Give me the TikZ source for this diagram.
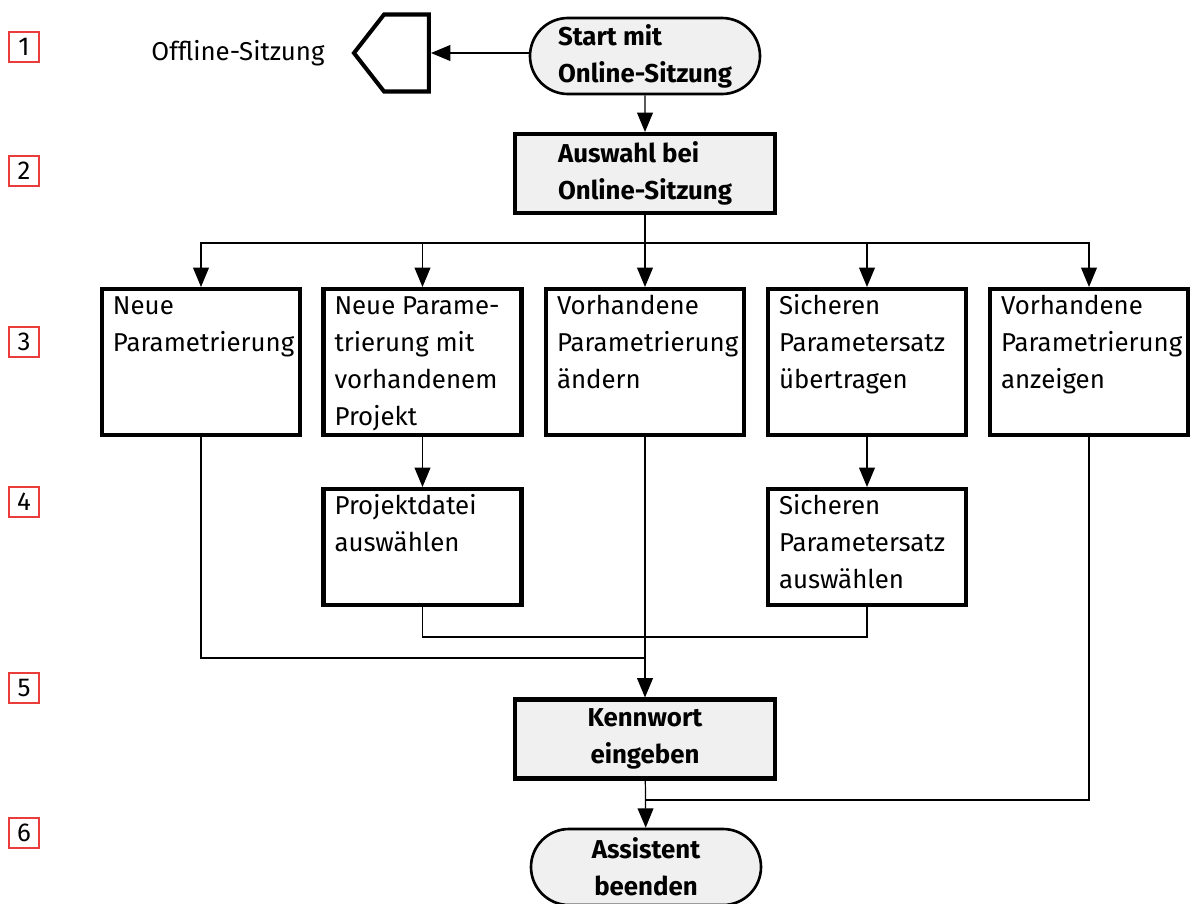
\documentclass[tikz,border=0pt]{standalone}
\usepackage{fontspec}
\setmainfont{Fira Sans}
\usetikzlibrary{arrows.meta,shapes.misc,shapes.symbols}
\definecolor{mark}{RGB}{235,60,60}
\definecolor{panel}{RGB}{240,240,240}
\newcommand{\diagfont}{\fontsize{14.7}{21}\selectfont}
\newcommand{\boxtxt}[2]{\parbox[c][#1][t]{3.96cm}{\raggedright\leftskip=0.22cm\strut#2}}
\tikzset{
  every node/.style={font=\diagfont},
  numbox/.style={draw=mark,line width=1.1pt,minimum size=0.6cm,inner sep=0pt},
  stepbox/.style={draw,line width=2.3pt,inner sep=0pt},
  termbox/.style={draw,rounded rectangle,fill=panel,line width=1.5pt,minimum width=4.6cm,
    minimum height=1.52cm,inner sep=0pt,font=\diagfont\bfseries},
  actbox/.style={draw,fill=panel,line width=2.3pt,minimum width=5.2cm,minimum height=1.58cm,
    inner sep=0pt,font=\diagfont\bfseries},
  offpage/.style={draw,signal,signal to=west,signal from=nowhere,signal pointer angle=104,
    line width=2.3pt,minimum width=1.5cm,minimum height=1.54cm,inner sep=0pt},
  conn/.style={line width=0.7pt},
  arr/.style={conn,-{Triangle[length=11pt,width=9pt]}},
}

\begin{document}
\begin{tikzpicture}
\useasboundingbox (0,0) rectangle (23.84,-18.06);

% row numbers
\node[numbox] (n1) at (0.48,-0.94) {1};
\node[numbox] (n2) at (0.48,-3.42) {2};
\node[numbox] (n3) at (0.48,-6.84) {3};
\node[numbox] (n4) at (0.48,-10.04) {4};
\node[numbox] (n5) at (0.48,-13.76) {5};
\node[numbox] (n6) at (0.48,-16.66) {6};

\node (offtext) at (4.76,-1.06) {Offline-Sitzung};
\node[offpage] (off) at (8.13,-1.06) {};
\node[termbox,align=left] (start) at (12.9,-1.12) {Start mit\\Online-Sitzung};
\node[actbox,align=left] (select) at (12.9,-3.47) {Auswahl bei\\Online-Sitzung};
\coordinate (split) at (12.9,-4.86);

\node[stepbox] (newpar) at (4.02,-7.24) {\boxtxt{2.92cm}{Neue\\Parametrierung}};
\node[stepbox] (newproj) at (8.45,-7.24) {\boxtxt{2.92cm}{Neue Parame-\\trierung mit\\vorhandenem\\Projekt}};
\node[stepbox] (change) at (12.9,-7.24) {\boxtxt{2.92cm}{Vorhandene\\Parametrierung\\ändern}};
\node[stepbox] (transfer) at (17.34,-7.24) {\boxtxt{2.92cm}{Sicheren\\Parametersatz\\übertragen}};
\node[stepbox] (show) at (21.78,-7.24) {\boxtxt{2.92cm}{Vorhandene\\Parametrierung\\anzeigen}};

\node[stepbox] (projfile) at (8.45,-10.94) {\boxtxt{2.32cm}{Projektdatei\\auswählen}};
\node[stepbox] (parset) at (17.34,-10.94) {\boxtxt{2.32cm}{Sicheren\\Parametersatz\\auswählen}};

\coordinate (join1) at (12.9,-13.16);
\node[actbox,align=center] (password) at (12.9,-14.78) {Kennwort\\eingeben};
\coordinate (join2) at (12.9,-16.0);
\node[termbox,align=center] (finish) at (12.92,-17.34) {Assistent\\beenden};

% connectors
\draw[arr] (start.west |- off.east) -- (off.east);
\draw[arr] (start) -- (select);
\draw[conn] (select) -- (split);
\foreach \b in {newpar,newproj,change,transfer,show}
  \draw[arr] (split) -| (\b.north);
\draw[arr] (newproj) -- (projfile);
\draw[arr] (transfer) -- (parset);
\draw[conn] (newpar.south) |- (join1);
\draw[conn] (projfile.south) -- ++(0,-0.6) -| (parset.south);
\draw[arr] (change) -- (password);
\draw[conn] (show.south) |- (join2);
\draw[arr] (password) -- (finish);
\end{tikzpicture}
\end{document}
